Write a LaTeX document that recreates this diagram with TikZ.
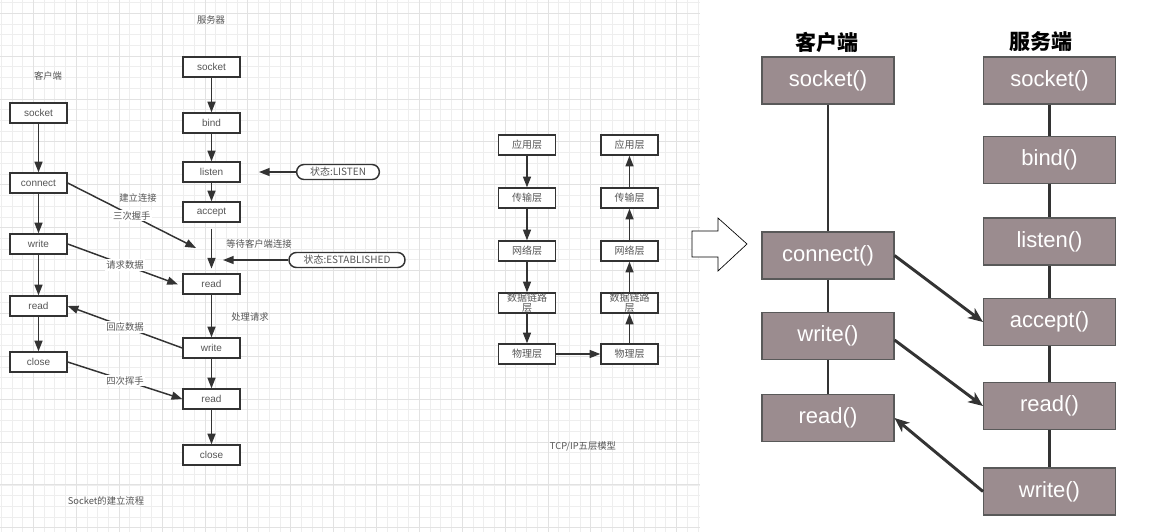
\documentclass[tikz,border=0pt]{standalone}
\usepackage{fontspec}
\setmainfont{Liberation Sans}
\newfontfamily\cjk{Noto Sans CJK SC}
\usetikzlibrary{arrows.meta}
\definecolor{boxfill}{RGB}{155,140,143}
\definecolor{gridline}{RGB}{238,238,238}
\definecolor{gridbold}{RGB}{226,226,226}
\definecolor{ink}{RGB}{51,51,51}
\definecolor{txt}{RGB}{85,85,85}

\begin{document}
\begin{tikzpicture}[x=0.75pt,y=-0.75pt,
box/.style={draw=ink, fill=white,
  line width=1.1pt,
  minimum width=42.75pt,
  minimum height=15pt,
  inner sep=0pt,text=txt,align=center,
  node font=\fontsize{7.5}{7.5}\selectfont
},
state/.style={box, rounded corners=5.5pt},
lbl/.style={text=txt, inner sep=1pt, node font=\fontsize{7}{8}\selectfont\cjk},
flow/.style={draw=ink, line width=1.1pt, -{Triangle[length=8pt,width=6pt]}},
fbox/.style={draw=black!65, fill=boxfill,
  line width=0.8pt,
  minimum width=99pt,
  minimum height=35.25pt,
  inner sep=0pt,text=white,
  node font=\fontsize{16.5}{19}\selectfont
},
title/.style={node font=\fontsize{15.75}{18}\selectfont\cjk\bfseries},
link/.style={draw=ink, line width=2.2pt},
call/.style={link, -{Stealth[length=11pt,width=9pt,inset=3pt]}}
]

\useasboundingbox (0,0) rectangle (1150,532);
\fill[white] (0,0) rectangle (1150,532);
\foreach \k in {0,...,65} \draw[gridline, line width=0.75pt] ({1.34+10.72*\k},0) -- ({1.34+10.72*\k},532);
\foreach \k in {0,...,49} \draw[gridline, line width=0.75pt] (0,{2.6+10.72*\k}) -- (700,{2.6+10.72*\k});
\foreach \m in {0,...,15} \draw[gridbold, line width=0.75pt] ({33.5+42.88*\m},0) -- ({33.5+42.88*\m},532);
\foreach \m in {0,...,12} \draw[gridbold, line width=0.75pt] (0,{13.3+42.88*\m}) -- (700,{13.3+42.88*\m});

\node (ctitle) [lbl] at (48,76) {客户端};
\node (stitle) [lbl] at (211,20) {服务器};

\node (csock) [box] at (38.5,113) {socket};
\node (cconn) [box] at (38.5,183) {connect};
\node (cwrite) [box] at (38.5,244) {write};
\node (cread) [box] at (38.5,306) {read};
\node (cclose) [box] at (38.5,362) {close};

\node (ssock) [box] at (211.5,67) {socket};
\node (sbind) [box] at (211.5,123) {bind};
\node (slisten) [box] at (211.5,172) {listen};
\node (saccept) [box] at (211.5,212) {accept};
\node (sread) [box] at (211.5,284) {read};
\node (swrite) [box] at (211.5,348) {write};
\node (sread2) [box] at (211.5,399) {read};
\node (sclose) [box] at (211.5,455) {close};

\node (stlisten) [state,minimum width=62pt,minimum height=11.25pt] at (338,172) {\cjk 状态:LISTEN};
\node (stest) [state,minimum width=87pt,minimum height=11.25pt] at (347,260) {\cjk 状态:ESTABLISHED};
\coordinate (lisend) at (259,172);
\coordinate (estend) at (223,260);
\coordinate (hsend) at (196,248);

\node (wait) [lbl] at (259,244) {等待客户端连接};
\node (proc) [lbl] at (250,317) {处理请求};
\node (build) [lbl] at (138,198) {建立连接};
\node (caption) [lbl] at (106,501) {Socket的建立流程};

\draw [flow] (csock) to (cconn);
\draw [flow] (cconn) to (cwrite);
\draw [flow] (cwrite) to (cread);
\draw [flow] (cread) to (cclose);

\draw [flow] (ssock) to (sbind);
\draw [flow] (sbind) to (slisten);
\draw [flow] (slisten) to (saccept);
\draw [flow,shorten <=4.5pt,shorten >=3.5pt] (saccept) to (sread);
\draw [flow] (sread) to (swrite);
\draw [flow] (swrite) to (sread2);
\draw [flow] (sread2) to (sclose);

\draw [flow] (stlisten) to (lisend);
\draw [flow] (stest) to (estend);

\draw [flow] (cconn.east) -- node [lbl,fill=white] {三次握手} (hsend);
\draw [flow,shorten >=3.5pt] (cwrite.east) -- node [lbl,fill=white] {请求数据} ([yshift=-1.5pt]sread.west);
\draw [flow] (swrite.west) -- node [lbl,fill=white] {回应数据} (cread.east);
\draw [flow] (cclose.east) -- node [lbl,fill=white] {四次挥手} (sread2.west);

\node (lapp) [box] at (527,145) {\cjk 应用层};
\node (ltrans) [box] at (527,198) {\cjk 传输层};
\node (lnet) [box] at (527,251) {\cjk 网络层};
\node (llink) [box] at (527,303) {\cjk 数据链路\\\cjk 层};
\node (lphy) [box] at (527,354) {\cjk 物理层};

\node (rapp) [box] at (629.5,145) {\cjk 应用层};
\node (rtrans) [box] at (629.5,198) {\cjk 传输层};
\node (rnet) [box] at (629.5,251) {\cjk 网络层};
\node (rlink) [box] at (629.5,303) {\cjk 数据链路\\\cjk 层};
\node (rphy) [box] at (629.5,354) {\cjk 物理层};

\node (model) [lbl] at (583,446) {TCP/IP五层模型};

\draw [flow] (lapp) to (ltrans);
\draw [flow] (ltrans) to (lnet);
\draw [flow] (lnet) to (llink);
\draw [flow] (llink) to (lphy);
\draw [flow] (lphy) to (rphy);
\draw [flow] (rphy) to (rlink);
\draw [flow] (rlink) to (rnet);
\draw [flow] (rnet) to (rtrans);
\draw [flow] (rtrans) to (rapp);

\draw [black,line width=0.5pt,fill=white] (692,231) -- (718,231) -- (718,218) -- (747,244) -- (718,271) -- (718,257) -- (692,257) -- cycle;

\node (fctitle) [title] at (827,42) {客户端};
\node (fstitle) [title] at (1041,42) {服务端};

\node (fcsock) [fbox] at (828,80.5) {socket()};
\node (fcconn) [fbox] at (828,255.5) {connect()};
\node (fcwrite) [fbox] at (828,336) {write()};
\node (fcread) [fbox] at (828,418) {read()};

\node (fssock) [fbox] at (1049.5,80.5) {socket()};
\node (fsbind) [fbox] at (1049.5,160) {bind()};
\node (fslisten) [fbox] at (1049.5,241.5) {listen()};
\node (fsaccept) [fbox] at (1049.5,322) {accept()};
\node (fsread) [fbox] at (1049.5,406) {read()};
\node (fswrite) [fbox] at (1049.5,491.5) {write()};

\draw [link] (fcsock) to (fcconn);
\draw [link] (fcconn) to (fcwrite);
\draw [link] (fcwrite) to (fcread);

\draw [link] (fssock) to (fsbind);
\draw [link] (fsbind) to (fslisten);
\draw [link] (fslisten) to (fsaccept);
\draw [link] (fsaccept) to (fsread);
\draw [link] (fsread) to (fswrite);

\draw [call] (fcconn.east) to (fsaccept.west);
\draw [call] ([yshift=-3pt]fcwrite.east) to (fsread.west);
\draw [call] (fswrite.west) to (fcread.east);

\end{tikzpicture}
\end{document}
